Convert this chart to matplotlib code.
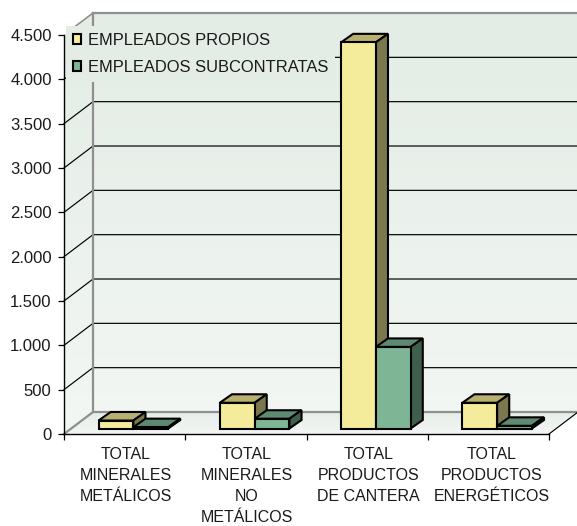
import numpy as np
from matplotlib import pyplot as plt
from matplotlib.colors import LinearSegmentedColormap
from matplotlib.patches import Patch, Polygon

categories = ['TOTAL\nMINERALES\nMETÁLICOS', 'TOTAL\nMINERALES\nNO\nMETÁLICOS',
              'TOTAL\nPRODUCTOS\nDE CANTERA', 'TOTAL\nPRODUCTOS\nENERGÉTICOS']
propios = [90, 290, 4355, 290]
subcontratas = [15, 110, 920, 30]
y_ticks = [0, 500, 1000, 1500, 2000, 2500, 3000, 3500, 4000, 4500]
y_labels = ['0', '500', '1.000', '1.500', '2.000', '2.500', '3.000', '3.500', '4.000', '4.500']

W, H = 577, 526
FONT = 'Liberation Sans'
TEXT = '#1a1a1a'
GRAY = '#8f8f8f'

# depth of the 3d box, in data units
wall_dx = 29 / 121.25
wall_dy = 248
# where the bars stand on the floor and how deep they are
bar_off = 0.285
bar_w = 0.287
bar_base = 62
bar_dx = 0.1
bar_dy = 96

YELLOW = ('#f5ec9b', '#b8b070', '#7c784e')
GREEN = ('#7db595', '#5d8a70', '#3f5f4c')


def gradient(ax, fig, pts, top, bottom):
    cmap = LinearSegmentedColormap.from_list('g', [top, bottom])
    xs, ys = zip(*pts)
    im = ax.imshow(np.linspace(0, 1, 256).reshape(-1, 1), cmap=cmap, aspect='auto',
                   extent=(min(xs), max(xs), min(ys), max(ys)), zorder=0, origin='upper')
    clip = Polygon(pts, transform=ax.transData)
    im.set_clip_box(fig.bbox)
    im.set_clip_path(clip)


def bar(ax, x, val, cols):
    b = bar_base
    t = bar_base + val
    w = x + bar_w
    kw = dict(ec='black', lw=1.5, joinstyle='miter', clip_on=False, zorder=3)
    ax.add_patch(Polygon([(x, t), (x + bar_dx, t + bar_dy), (w + bar_dx, t + bar_dy), (w, t)],
                         fc=cols[1], **kw))
    ax.add_patch(Polygon([(w, b), (w, t), (w + bar_dx, t + bar_dy), (w + bar_dx, b + bar_dy)],
                         fc=cols[2], **kw))
    ax.add_patch(Polygon([(x, b), (x, t), (w, t), (w, b)], fc=cols[0], **kw))


fig = plt.figure(figsize=(W / 100, H / 100), dpi=100)
ax = fig.add_axes([64 / W, (H - 434) / H, 485 / W, 399 / H])

top = 4500
gradient(ax, fig, [(0, 0), (0, top), (wall_dx, top + wall_dy), (4 + wall_dx, top + wall_dy),
                   (4 + wall_dx, wall_dy), (4, 0)], '#e3ece5', '#f3f7f4')
gradient(ax, fig, [(0, 0), (wall_dx, wall_dy), (4 + wall_dx, wall_dy), (4, 0)], '#e6ede8', '#f3f6f4')

# grid on side and back wall
for v in y_ticks[1:-1]:
    ax.plot([0, wall_dx, 4 + wall_dx], [v, v + wall_dy, v + wall_dy], color='black', lw=0.85,
            clip_on=False, zorder=1)

# box edges
ax.plot([wall_dx, wall_dx], [wall_dy, top + wall_dy], color=GRAY, lw=1.6, clip_on=False, zorder=1)
ax.plot([wall_dx, 4 + wall_dx], [top + wall_dy, top + wall_dy], color=GRAY, lw=1.6, clip_on=False, zorder=1)
ax.plot([0.07, wall_dx], [top + wall_dy * 0.3, top + wall_dy], color=GRAY, lw=1.2, clip_on=False, zorder=1)
ax.plot([0, wall_dx, 4 + wall_dx], [0, wall_dy, wall_dy], color=GRAY, lw=1.6, clip_on=False, zorder=1)
ax.plot([4, 4 + wall_dx], [0, wall_dy], color='black', lw=0.85, clip_on=False, zorder=1)

for i in range(len(categories)):
    bar(ax, i + bar_off, propios[i], YELLOW)
    bar(ax, i + bar_off + bar_w, subcontratas[i], GREEN)

ax.set_xlim(0, 4)
ax.set_ylim(0, 4500)
ax.spines['top'].set_visible(False)
ax.spines['right'].set_visible(False)
ax.spines['left'].set_linewidth(1.0)
ax.spines['bottom'].set_linewidth(1.0)

ax.set_yticks(y_ticks)
ax.set_yticklabels(y_labels, fontsize=12, family=FONT, color=TEXT)
ax.tick_params(axis='y', length=4.4, width=0.9, pad=4.5)

ax.set_xticks([0, 1, 2, 3, 4])
ax.set_xticklabels([])
ax.set_xticks([0.51, 1.51, 2.51, 3.53], minor=True)
ax.set_xticklabels(categories, minor=True, fontsize=11.5, family=FONT, color=TEXT, linespacing=1.5)
ax.tick_params(axis='x', which='major', length=4.4, width=0.9)
ax.tick_params(axis='x', which='minor', length=0, pad=9.5)

handles = [Patch(fc=YELLOW[0], ec='black', lw=1.5, label='EMPLEADOS PROPIOS'),
           Patch(fc=GREEN[0], ec='black', lw=1.5, label='EMPLEADOS SUBCONTRATAS')]
leg = ax.legend(handles=handles, loc='upper left', bbox_to_anchor=(2 / 485, 1 + 9 / 399),
                borderaxespad=0, frameon=True, fancybox=False, framealpha=1, facecolor='#e4ece6',
                edgecolor='none', prop={'family': FONT, 'size': 11.9}, handlelength=0.5,
                handleheight=0.55, handletextpad=0.4, labelspacing=0.72, borderpad=0.42)
for t in leg.get_texts():
    t.set_color(TEXT)
leg.set_zorder(2)

fig.savefig('out.png', dpi=100)
